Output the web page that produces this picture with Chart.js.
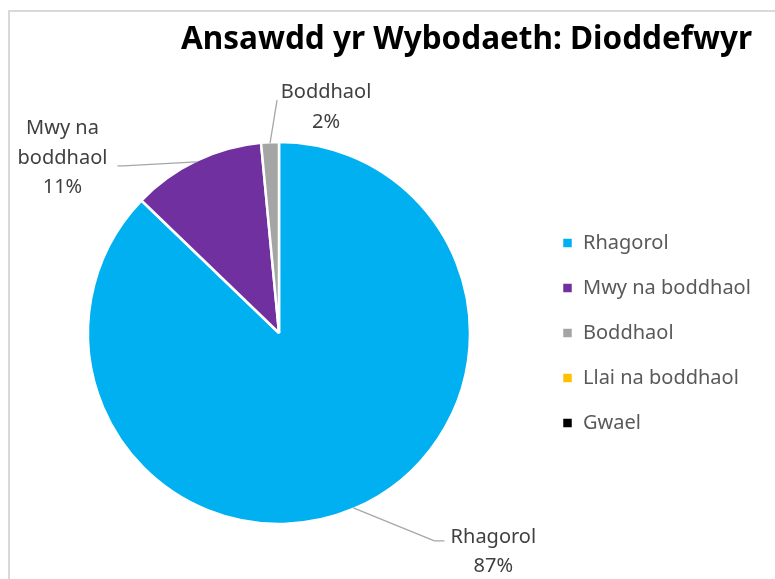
<!DOCTYPE html>
<html>
<head>
<meta charset="utf-8">
<script src="https://cdn.jsdelivr.net/npm/chart.js@4.4.0/dist/chart.umd.min.js"></script>
<style>
  html, body { margin: 0; padding: 0; background: #fff; }
  #wrap { position: relative; width: 775px; height: 579px; overflow: hidden; }
  #frame { position: absolute; left: 8px; top: 10px; width: 800px; height: 600px; border: 2px solid #d9d9d9; }
  canvas { position: absolute; left: 0; top: 0; }
</style>
</head>
<body>
<div id="wrap">
  <div id="frame"></div>
  <canvas id="myChart" width="775" height="579"></canvas>
</div>
<script>
var chartTitle = 'Ansawdd yr Wybodaeth: Dioddefwyr';
var categories = ['Rhagorol', 'Mwy na boddhaol', 'Boddhaol', 'Llai na boddhaol', 'Gwael'];
var shares = [87.2, 11.3, 1.5, 0, 0];
var sliceColours = ['#00b0f0', '#7030a0', '#a5a5a5', '#ffc000', '#000000'];
// data labels wrap like in the original (the long one goes over two lines)
var labelLines = [['Rhagorol'], ['Mwy na', 'boddhaol'], ['Boddhaol'], [], []];

// where each label sits, relative to the point the leader leaves the slice edge
var labelSpots = [
    { text: [140, 44], elbow: [81, 33], end: [91, 33] },
    { text: [-134, -4], elbow: [-73, 4], end: [-79, 4] },
    { text: [56, -36], elbow: null, end: [7, -43] },
    null,
    null
];

var labelFont = '20px "Noto Sans"';

// legend needs to sit with its boxes at x=562, so work out right padding from the widest text
var measure = document.createElement('canvas').getContext('2d');
measure.font = labelFont;
var widest = 0;
categories.forEach(function (c) {
    widest = Math.max(widest, measure.measureText(c).width);
});
var legendPad = 25;
var padRight = Math.max(0, 775 - (562 - legendPad) - (legendPad + 11 + 10 + widest + 10));
var padLeft = 2 * 279 - (562 - legendPad);

var sliceLabels = {
    id: 'sliceLabels',
    afterDatasetsDraw: function (chart) {
        var ctx = chart.ctx;
        var meta = chart.getDatasetMeta(0);
        var total = shares.reduce(function (a, b) { return a + b; }, 0);
        meta.data.forEach(function (arc, i) {
            var spot = labelSpots[i];
            if (!spot || !shares[i]) return;
            var p = arc.getProps(['x', 'y', 'startAngle', 'endAngle', 'outerRadius'], true);
            var mid = (p.startAngle + p.endAngle) / 2;
            var ex = p.x + Math.cos(mid) * (p.outerRadius - 1);
            var ey = p.y + Math.sin(mid) * (p.outerRadius - 1);
            ctx.save();
            ctx.strokeStyle = '#a6a6a6';
            ctx.lineWidth = 1.3;
            ctx.beginPath();
            ctx.moveTo(ex, ey);
            if (spot.elbow) ctx.lineTo(ex + spot.elbow[0], ey + spot.elbow[1]);
            ctx.lineTo(ex + spot.end[0], ey + spot.end[1]);
            ctx.stroke();

            var lines = labelLines[i].concat([Math.round(shares[i] / total * 100) + '%']);
            var lh = 29.5;
            var cy = ey + spot.text[1] - (lines.length - 1) * lh / 2;
            ctx.font = labelFont;
            ctx.fillStyle = '#404040';
            ctx.textAlign = 'center';
            ctx.textBaseline = 'middle';
            lines.forEach(function (t, k) {
                ctx.fillText(t, ex + spot.text[0], cy + k * lh);
            });
            ctx.restore();
        });
    }
};

var titleText = {
    id: 'titleText',
    afterDraw: function (chart) {
        var ctx = chart.ctx;
        ctx.save();
        ctx.font = 'bold 31.5px "Noto Sans"';
        ctx.fillStyle = '#000000';
        ctx.textAlign = 'right';
        ctx.textBaseline = 'alphabetic';
        ctx.fillText(chartTitle, 752, 49);
        ctx.restore();
    }
};

var ctx = document.getElementById('myChart');
var myChart = new Chart(ctx, {
    type: 'pie',
    data: {
        labels: categories,
        datasets: [{
            data: shares,
            backgroundColor: sliceColours,
            borderColor: '#ffffff',
            borderWidth: 2.5
        }]
    },
    options: {
        responsive: false,
        animation: false,
        radius: 191,
        layout: {
            padding: { top: 87, bottom: 0, left: padLeft, right: padRight }
        },
        plugins: {
            tooltip: { enabled: false },
            legend: {
                position: 'right',
                align: 'center',
                labels: {
                    boxWidth: 11,
                    boxHeight: 11,
                    padding: legendPad,
                    color: '#595959',
                    font: { family: 'Noto Sans', size: 20 }
                }
            }
        }
    },
    plugins: [sliceLabels, titleText]
});
</script>
</body>
</html>
